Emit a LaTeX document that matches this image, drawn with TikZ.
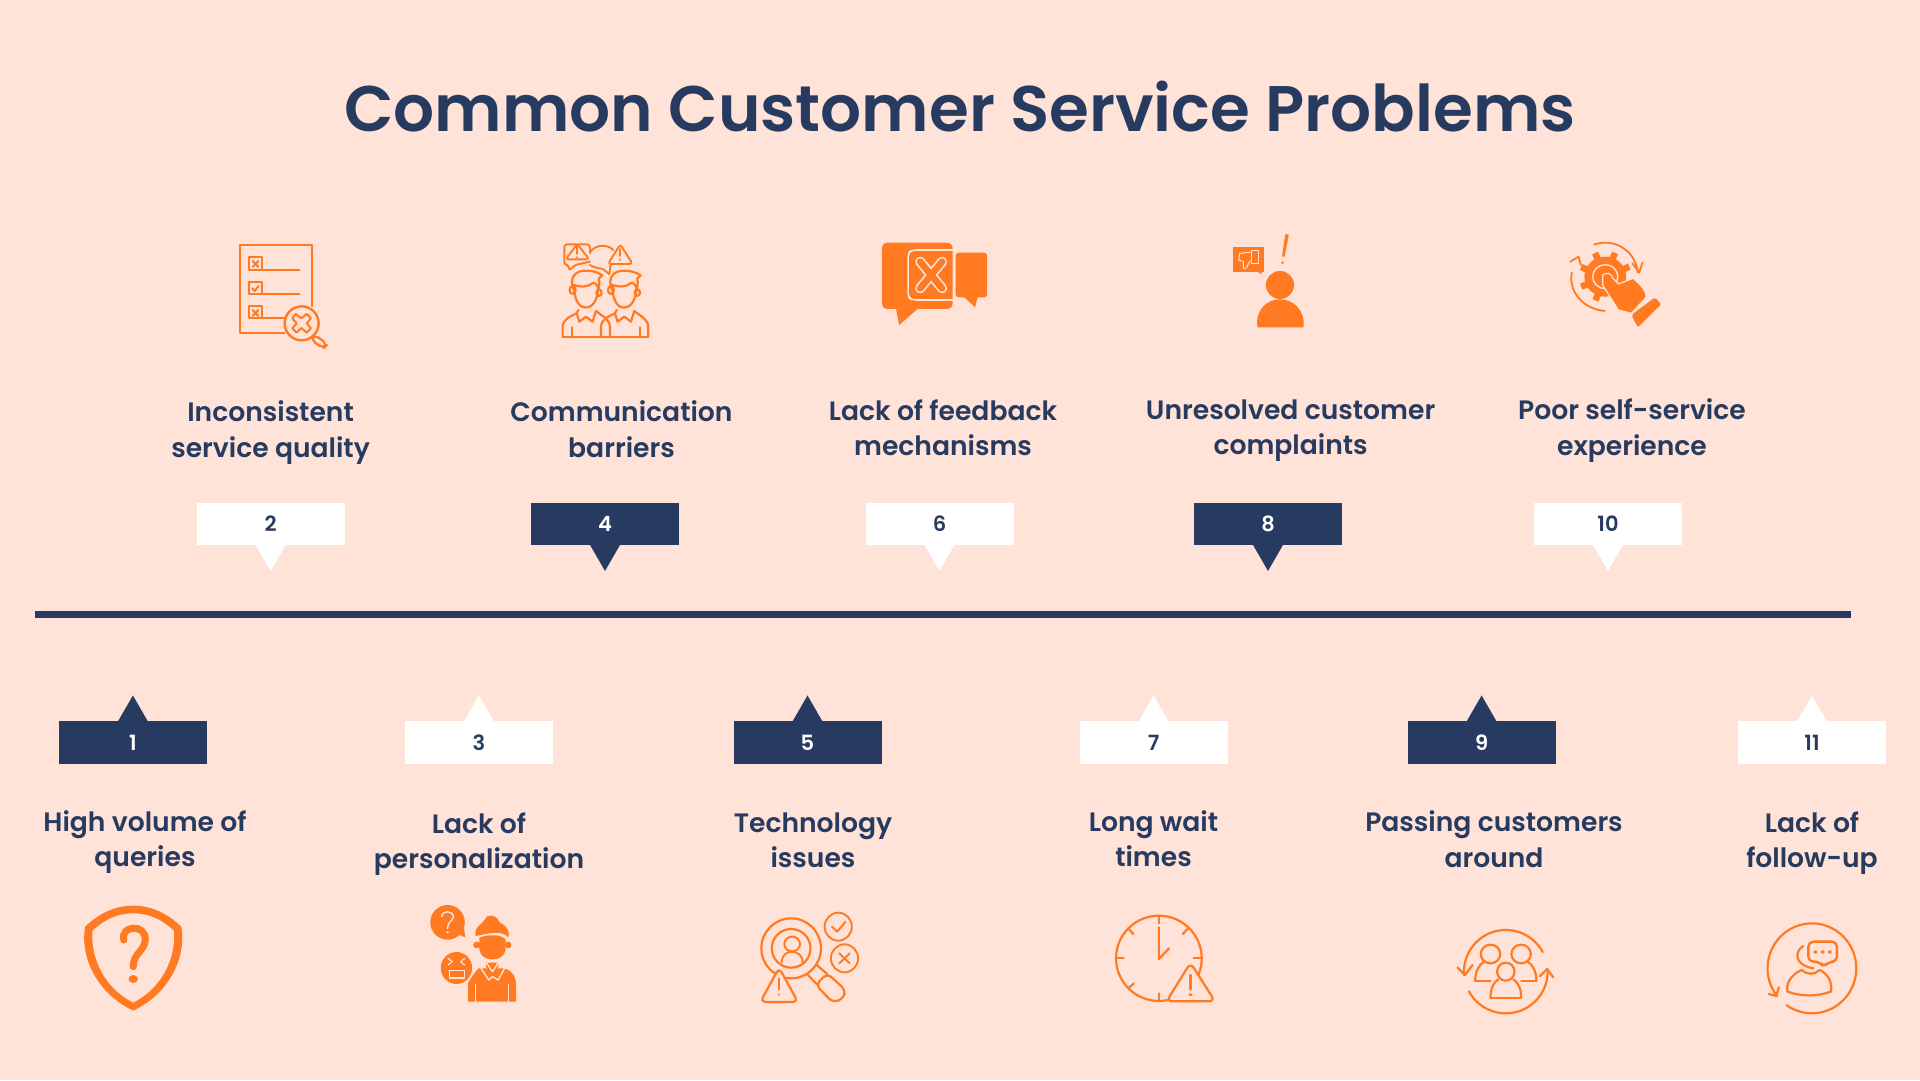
\documentclass[tikz,border=0pt]{standalone}
\usepackage{fontspec}
\setmainfont{Poppins}
\newfontfamily\popsb{Poppins SemiBold}
\definecolor{bgc}{HTML}{FFE2D8}
\definecolor{navy}{HTML}{273B60}
\definecolor{org}{HTML}{FF7A21}
\newcommand\earc[6]{plot[domain=#5:#6,samples=50,variable=\t] ({#1+#3*cos(\t)},{#2+#4*sin(\t)})}
\newcommand\manic{%
  \draw[ic] (1122,235) .. controls (1125,275) and (1140,293) .. (1157,293) .. controls (1175,293) and (1192,275) .. (1195,235);
  \draw[ic] (1122,240) .. controls (1105,205) and (1125,180) .. (1160,182) .. controls (1180,182) and (1195,188) .. (1207,196) -- (1197,205) .. controls (1200,220) and (1197,230) .. (1195,235) .. controls (1190,222) and (1185,218) .. (1180,218) .. controls (1165,232) and (1140,232) .. (1122,225);
  \draw[ic] (1118,240) circle[x radius=9,y radius=12];
  \draw[ic] (1197,248) circle[x radius=8,y radius=10];
  \draw[ic] (1088,380) -- (1088,350) .. controls (1090,325) and (1115,318) .. (1130,310) -- (1138,335) -- (1158,320) -- (1178,335) -- (1188,303) .. controls (1205,318) and (1228,325) .. (1230,350) -- (1230,380);
  \draw[ic] (1130,310) -- (1135,300); \draw[ic] (1115,352) -- (1115,380); \draw[ic] (1204,352) -- (1204,380);
}
\tikzset{
  ic/.style={draw=org,line width=2.2pt,line join=round,line cap=round},
  icf/.style={fill=org,draw=none},
  lt/.style={draw=bgc,line width=1.4pt,line join=round,line cap=round},
  numw/.style={fill=white,text=navy,minimum width=148pt,minimum height=42.5pt,inner sep=0pt,font=\popsb\fontsize{21}{24}\selectfont},
  numn/.style={fill=navy,text=white,minimum width=148pt,minimum height=42.5pt,inner sep=0pt,font=\popsb\fontsize{21}{24}\selectfont},
  lab/.style={align=center,text=navy,inner sep=0pt,font=\popsb\fontsize{26.6}{35.4}\selectfont},
  tipw/.style={fill=white},
  tipn/.style={fill=navy},
}
\begin{document}
\begin{tikzpicture}[x=1pt,y=-1pt]
\useasboundingbox (0,0) rectangle (1920,1080);
\fill[bgc] (0,0) rectangle (1920,1080);
\node[text=navy,inner sep=0pt,font=\popsb\fontsize{64.4}{72}\selectfont] (title) at (960,106.5) {Common Customer Service Problems};
\coordinate (barL) at (34.8,614.5);
\coordinate (barR) at (1851,614.5);
\draw[navy,line width=7.6pt] (barL) -- (barR);
% upper number tags
\node[numw] (n2) at (270.6,523.8) {2};
\node[numn] (n4) at (605,523.8) {4};
\node[numw] (n6) at (939.5,523.8) {6};
\node[numn] (n8) at (1268,523.8) {8};
\node[numw] (n10) at (1608,523.8) {10};
\foreach \n/\s in {n2/tipw,n4/tipn,n6/tipw,n8/tipn,n10/tipw}
  \fill[\s] (\n.south) ++(-15,-0.3) -- ++(15,26) -- ++(15,-26) -- cycle;
% lower number tags
\node[numn] (n1) at (132.9,742.6) {1};
\node[numw] (n3) at (479,742.6) {3};
\node[numn] (n5) at (807.5,742.6) {5};
\node[numw] (n7) at (1153.5,742.6) {7};
\node[numn] (n9) at (1481.6,742.6) {9};
\node[numw] (n11) at (1812,742.6) {11};
\foreach \n/\s in {n1/tipn,n3/tipw,n5/tipn,n7/tipw,n9/tipn,n11/tipw}
  \fill[\s] (\n.north) ++(-15,0.3) -- ++(15,-26) -- ++(15,26) -- cycle;
% labels
\node[lab] (l2) at (270.6,432.7) {Inconsistent\\service quality};
\node[lab] (l4) at (621.5,429) {Communication\\barriers};
\node[lab] (l6) at (943,428) {Lack of feedback\\mechanisms};
\node[lab] (l8) at (1290.6,430.5) {Unresolved customer\\complaints};
\node[lab] (l10) at (1632,430.5) {Poor self-service\\experience};
\node[lab] (l1) at (145,842.2) {High volume of\\queries};
\node[lab] (l3) at (479,844.2) {Lack of\\personalization};
\node[lab] (l5) at (813,840.5) {Technology\\issues};
\node[lab] (l7) at (1153.5,838.5) {Long wait\\times};
\node[lab] (l9) at (1494,839) {Passing customers\\around};
\node[lab] (l11) at (1812,843) {Lack of\\follow-up};
% icon: checklist
\begin{scope}[shift={(200,210)},x=0.3333pt,y=-0.3333pt]
 \draw[ic,line cap=butt] (255,369) -- (119,369) -- (119,106) -- (337,106) -- (337,292);
 \foreach \yy/\zz in {142/180,215/252,288/325}{
   \draw[ic,line cap=butt] (147,\yy) rectangle (185,\zz);
 }
 \draw[ic,line cap=butt] (185,180) -- (300,180);
 \draw[ic,line cap=butt] (185,252) -- (300,252);
 \draw[ic,line cap=butt] (185,325) -- (255,325);
 \draw[ic,line width=2pt] (158,153) -- (175,171) (175,153) -- (158,171);
 \draw[ic,line width=2pt] (157,235) -- (164,243) -- (176,228);
 \draw[ic,line width=2pt] (158,300) -- (175,318) (175,300) -- (158,318);
 \draw[ic,line width=2.4pt] (305,340) circle[radius=51];
 \draw[ic,line width=2pt] (287,312) -- (304,325) -- (320,312) -- (333,325) -- (320,340) -- (333,355) -- (320,368) -- (304,354) -- (290,368) -- (277,355) -- (290,340) -- (277,325) -- cycle;
 \draw[ic,rounded corners=5pt] (332,388) -- (345,374) -- (382,403) -- (370,416) -- cycle;
\end{scope}
% icon: two men
\begin{scope}[shift={(200,210)},x=0.3333pt,y=-0.3333pt]
 \draw[ic,line width=1.9pt,rounded corners=3pt] (1170,130) -- (1170,103) -- (1093,103) -- (1093,165) -- (1107,165) -- (1107,183) -- (1125,165) -- (1170,155);
 \draw[ic,line width=1.9pt,rounded corners=3pt] (1132,102) -- (1168,148) -- (1097,148) -- cycle;
 \draw[ic,line width=1.9pt] (1132,112) -- (1132,132) (1132,141) -- (1132,142);
 \draw[ic,line width=1.9pt] (1172,125) .. controls (1185,105) and (1220,100) .. (1240,120);
 \draw[ic,line width=1.9pt] (1170,165) .. controls (1180,172) and (1195,175) .. (1207,176) -- (1228,192) -- (1232,165);
 \draw[ic,line width=1.9pt,rounded corners=3pt] (1261,103) -- (1298,162) -- (1224,162) -- cycle;
 \draw[ic,line width=1.9pt] (1261,117) -- (1261,138) (1261,149) -- (1261,150);
 \manic
 \begin{scope}[shift={(115,0)}]\manic\end{scope}
 \draw[ic] (1088,380) -- (1345,380);
\end{scope}
% icon: feedback bubbles
\begin{scope}[shift={(860,210)},x=0.523pt,y=-0.3333pt]
 \fill[org,rounded corners=5pt] (42,98) rectangle (177,297);
 \fill[org] (68,290) -- (75,345) -- (115,290) -- cycle;
 \fill[org,rounded corners=3pt] (183,128) rectangle (243,262);
 \fill[org] (195,255) -- (220,292) -- (226,255) -- cycle;
 \draw[lt,line width=1.6pt,rounded corners=4pt] (180,120) -- (100,120) -- (92,128) -- (92,262) -- (100,270) -- (180,270);
 \draw[bgc,line width=1.6pt] (180,98) -- (180,297);
 \draw[bgc,line width=10pt,line cap=round] (115,155) -- (157,235) (157,155) -- (115,235);
 \draw[org,line width=6.6pt,line cap=round] (115,155) -- (157,235) (157,155) -- (115,235);
\end{scope}
% icon: person thumbs down
\begin{scope}[shift={(860,210)},x=0.523pt,y=-0.3333pt]
 \fill[org] (713,112) rectangle (772,185);
 \fill[org] (760,185) -- (768,193) -- (768,185) -- cycle;
 \draw[lt,line width=1pt] (748,122) rectangle (762,160);
 \draw[lt,line width=1pt] (746,127) -- (726,130) -- (724,150) -- (733,155) -- (733,175) -- (738,175) -- (746,152);
 \fill[org] (813,73) -- (820,73) -- (812,140) -- (807,140) -- cycle;
 \fill[org] (808,158) ellipse[x radius=3,y radius=4];
 \fill[org] (803,225) ellipse[x radius=27,y radius=42];
 \fill[org] (760,352) .. controls (755,300) and (778,268) .. (803,268) .. controls (828,268) and (852,300) .. (848,352) -- cycle;
\end{scope}
% icon: gear and hand
\begin{scope}[shift={(860,210)},x=0.523pt,y=-0.3333pt]
 \draw[ic,line width=1.8pt] \earc{1425}{195}{62}{97}{-110}{-5};
 \draw[ic,line width=1.8pt] (1477,160) -- (1490,188) -- (1496,158);
 \draw[ic,line width=1.8pt] \earc{1430}{205}{70}{98}{95}{190};
 \draw[ic,line width=1.8pt] (1358,155) -- (1374,140) -- (1378,165);
 \foreach \a in {0,45,...,315}
   \draw[org,line width=6.5pt] (1425,200) -- ({1425+50*cos(\a+22)},{200+77*sin(\a+22)});
 \fill[org] (1425,200) ellipse[x radius=40,y radius=60];
 \draw[lt] (1425,200) ellipse[x radius=24,y radius=36];
 \fill[org,draw=bgc,line width=1.2pt,line join=round] (1420,195) .. controls (1428,185) and (1436,190) .. (1440,205) -- (1450,222) -- (1478,205) .. controls (1495,225) and (1505,250) .. (1503,262) -- (1475,310) -- (1450,300) -- (1420,225) -- cycle;
 \fill[org,rounded corners=2pt] (1520,262) -- (1532,283) -- (1487,352) -- (1475,315) -- cycle;
\end{scope}
% icon: shield
\begin{scope}[shift={(60,890)},x=0.523pt,y=-0.3333pt]
 \fill[org,even odd rule] (140,47) .. controls (95,47) and (65,85) .. (48,110) .. controls (38,200) and (70,310) .. (140,362) .. controls (210,310) and (242,200) .. (232,110) .. controls (215,85) and (185,47) .. (140,47) -- cycle
  (140,70) .. controls (105,70) and (80,95) .. (62,122) .. controls (58,205) and (85,295) .. (140,338) .. controls (195,295) and (222,205) .. (218,122) .. controls (200,95) and (175,70) .. (140,70) -- cycle;
 \draw[org,line width=7pt,line cap=round] (122,150) .. controls (115,105) and (165,100) .. (163,150) .. controls (163,180) and (140,190) .. (140,230);
 \fill[org] (140,267) ellipse[x radius=9,y radius=12];
\end{scope}
% icon: man with bubbles
\begin{scope}[shift={(60,890)},x=0.523pt,y=-0.3333pt]
 \fill[org] (741,97) ellipse[x radius=33,y radius=52];
 \fill[org] (755,130) -- (775,142) -- (772,110) -- cycle;
 \draw[lt] (730,80) .. controls (730,60) and (753,60) .. (752,82) .. controls (750,95) and (741,95) .. (741,115);
 \fill[bgc] (741,127) ellipse[x radius=3,y radius=3];
 \fill[org] (758,234) ellipse[x radius=30,y radius=48];
 \draw[lt,line width=1.2pt] (744,242) rectangle (773,264);
 \draw[lt,line width=1.2pt] (742,205) -- (750,215) -- (742,225) (774,205) -- (766,215) -- (774,225);
 \fill[org] (795,138) .. controls (790,110) and (808,105) .. (816,80) .. controls (826,72) and (836,80) .. (840,96) .. controls (850,105) and (862,118) .. (857,142) .. controls (845,118) and (815,132) .. (795,138) -- cycle;
 \fill[org] (802,143) .. controls (815,135) and (840,130) .. (852,148) -- (852,180) .. controls (848,218) and (806,218) .. (802,180) -- cycle;
 \fill[org] (797,165) ellipse[x radius=7,y radius=10] (857,165) ellipse[x radius=6,y radius=10];
 \fill[org] (815,218) -- (838,218) -- (838,232) -- (827,250) -- (815,232) -- cycle;
 \fill[org] (780,335) -- (780,280) .. controls (785,265) and (792,250) .. (800,235) -- (850,235) .. controls (868,245) and (872,265) .. (872,285) -- (872,335) -- cycle;
 \draw[lt] (805,235) -- (820,270) -- (827,260) -- (838,270) -- (850,235);
 \draw[lt] (795,283) -- (795,336) (857,283) -- (857,336);
 \draw[lt] (815,218) -- (827,245) -- (838,218);
\end{scope}
% icon: magnifier with person
\begin{scope}[shift={(60,890)},x=0.523pt,y=-0.3333pt]
 \draw[ic] (1398,175) ellipse[x radius=57,y radius=90];
 \draw[ic] (1398,175) ellipse[x radius=37,y radius=58];
 \draw[ic,line width=1.9pt] (1400,162) ellipse[x radius=15,y radius=22];
 \draw[ic,line width=1.9pt] (1380,218) .. controls (1380,195) and (1390,185) .. (1398,185) .. controls (1410,185) and (1420,195) .. (1420,218);
 \draw[ic,line width=1.9pt] (1488,110) ellipse[x radius=26,y radius=42];
 \draw[ic,line width=1.9pt] (1476,110) -- (1486,125) -- (1502,95);
 \draw[ic,line width=1.9pt] (1500,205) ellipse[x radius=26,y radius=42];
 \draw[ic,line width=1.9pt] (1490,190) -- (1510,220) (1510,190) -- (1490,220);
 \draw[ic] (1428,252) -- (1447,282) (1447,225) -- (1467,252);
 \draw[ic,rounded corners=5pt] (1445,285) -- (1467,250) -- (1502,300) -- (1498,325) -- (1478,338) -- cycle;
 \draw[ic,fill=bgc,rounded corners=5pt] (1375,233) -- (1411,336) -- (1339,336) -- cycle;
 \draw[ic,line width=1.9pt] (1375,265) -- (1375,298) (1375,313) -- (1375,314);
\end{scope}
% icon: clock
\begin{scope}[shift={(1090,890)},x=0.5102pt,y=-0.3333pt]
 \draw[ic] (135,205) ellipse[x radius=84,y radius=128];
 \draw[ic] (135,78) -- (135,100) (135,310) -- (135,332) (52,205) -- (66,205) (203,205) -- (218,205);
 \draw[ic] (75,115) -- (85,132) (192,115) -- (182,132) (75,295) -- (86,280);
 \draw[ic] (135,112) -- (135,207) -- (155,175);
 \draw[ic,fill=bgc,rounded corners=6pt] (197,218) -- (245,334) -- (150,334) -- cycle;
 \draw[org,line width=2.4pt,line cap=round] (197,255) -- (197,298);
 \fill[org] (197,314) ellipse[x radius=4,y radius=4];
\end{scope}
% icon: group with arrows
\begin{scope}[shift={(1090,890)},x=0.5102pt,y=-0.3333pt]
 \draw[ic] \earc{815}{245}{82}{125}{-28}{-185};
 \draw[ic] (720,232) -- (735,255) -- (750,225);
 \draw[ic] \earc{815}{245}{82}{125}{152}{-2};
 \draw[ic] (882,258) -- (896,237) -- (908,262);
 \draw[ic] (785,192) ellipse[x radius=19,y radius=28];
 \draw[ic] (845,192) ellipse[x radius=19,y radius=28];
 \draw[ic] (755,272) .. controls (755,245) and (762,225) .. (772,215);
 \draw[ic] (858,215) .. controls (868,225) and (875,245) .. (875,272);
 \draw[ic] (755,272) -- (785,272) (845,272) -- (875,272);
 \draw[ic,fill=bgc] (815,245) ellipse[x radius=17,y radius=27];
 \draw[ic] (785,323) .. controls (785,295) and (790,280) .. (800,268);
 \draw[ic] (830,268) .. controls (840,280) and (845,295) .. (845,323);
 \draw[ic] (785,323) -- (845,323);
\end{scope}
% icon: support person
\begin{scope}[shift={(1090,890)},x=0.5102pt,y=-0.3333pt]
 \draw[ic] \earc{1415}{235}{87}{135}{125}{-218};
 \draw[ic] (1330,312) -- (1345,318) -- (1350,292);
 \draw[ic] (1398,168) .. controls (1380,185) and (1380,225) .. (1418,235);
 \draw[ic,rounded corners=5pt,line width=2.4pt] (1408,155) -- (1464,155) -- (1464,215) -- (1448,215) -- (1438,232) -- (1430,215) -- (1408,215) -- cycle;
 \foreach \q in {1422,1436,1450} \fill[org] (\q,186) ellipse[x radius=4,y radius=5];
 \draw[ic] (1367,305) .. controls (1362,270) and (1385,245) .. (1395,240) .. controls (1405,255) and (1420,255) .. (1430,240) .. controls (1445,250) and (1456,275) .. (1452,305) .. controls (1425,320) and (1395,320) .. (1367,305) -- cycle;
\end{scope}
\end{tikzpicture}
\end{document}
